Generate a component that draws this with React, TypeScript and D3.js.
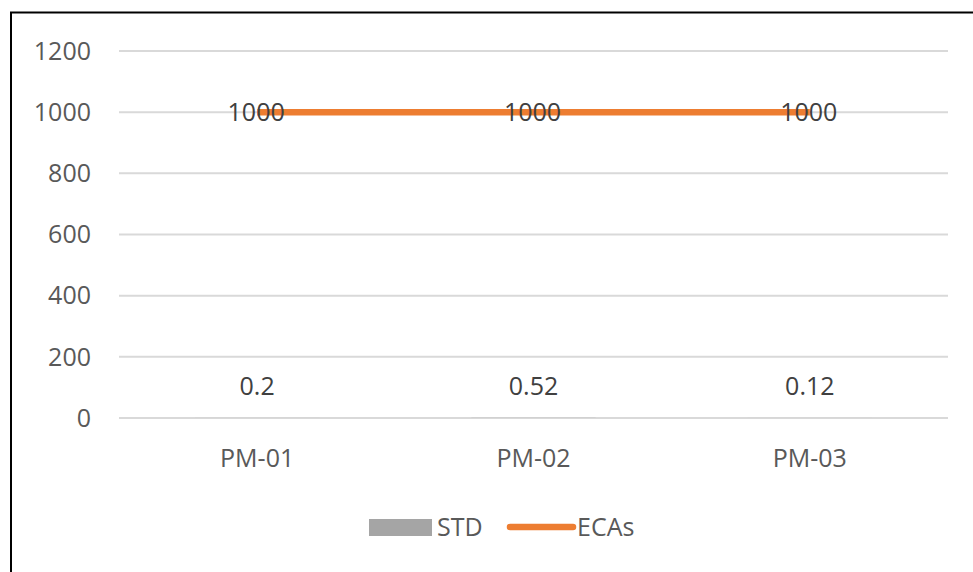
import React from "react";
import * as d3 from "d3";

const categories = ["PM-01", "PM-02", "PM-03"];
const stdValues = [0.2, 0.52, 0.12];
const ecaValues = [1000, 1000, 1000];
const yTicks = [0, 200, 400, 600, 800, 1000, 1200];

const W = 973;
const H = 572;
const FONT = "'Open Sans', 'Noto Sans', sans-serif";

export default function App() {
  const x = d3.scaleBand<string>().domain(categories).range([119, 948]);
  const y = d3.scaleLinear().domain([0, 1200]).range([418, 51]);
  const cx = (c: string) => (x(c) as number) + x.bandwidth() / 2;
  const line = d3
    .line<number>()
    .x((_, i) => cx(categories[i]))
    .y((d) => y(d));
  const barW = x.bandwidth() * 0.45;

  return (
    <svg
      width={W}
      height={H}
      style={{ position: "absolute", left: 0, top: 0, display: "block", background: "#fff" }}
      fontFamily={FONT}
    >
      <rect x={0} y={0} width={W} height={H} fill="#fff" />
      <rect x={11} y={12.5} width={1100} height={700} fill="none" stroke="#000" strokeWidth={2} />
      {yTicks.map((t) => (
        <g key={t}>
          <line x1={119} x2={948} y1={y(t)} y2={y(t)} stroke="#d9d9d9" strokeWidth={2} />
          <text x={91} y={y(t)} dy="0.35em" textAnchor="end" fontSize={25} fill="#595959">
            {t}
          </text>
        </g>
      ))}
      {categories.map((c, i) => (
        <g key={c}>
          <rect
            x={cx(c) - barW / 2}
            width={barW}
            y={y(stdValues[i])}
            height={y(0) - y(stdValues[i])}
            fill="#A5A5A5"
          />
          <text x={cx(c)} y={y(stdValues[i]) - 32} dy="0.35em" textAnchor="middle" fontSize={25} fill="#404040">
            {stdValues[i]}
          </text>
          <text x={cx(c)} y={458} dy="0.35em" textAnchor="middle" fontSize={25} fill="#595959">
            {c}
          </text>
        </g>
      ))}
      <path d={line(ecaValues) || ""} fill="none" stroke="#ED7D31" strokeWidth={6.5} strokeLinecap="butt" />
      {categories.map((c, i) => (
        <text key={c} x={cx(c) - 1} y={y(ecaValues[i])} dy="0.35em" textAnchor="middle" fontSize={25} fill="#404040">
          {ecaValues[i]}
        </text>
      ))}
      <g>
        <rect x={369} y={519} width={63} height={17} fill="#A5A5A5" />
        <text x={437} y={527.5} dy="0.35em" fontSize={25} fill="#595959">
          STD
        </text>
        <line x1={510} x2={573} y1={527} y2={527} stroke="#ED7D31" strokeWidth={6.5} strokeLinecap="round" />
        <text x={577} y={527.5} dy="0.35em" fontSize={25} fill="#595959">
          ECAs
        </text>
      </g>
    </svg>
  );
}
